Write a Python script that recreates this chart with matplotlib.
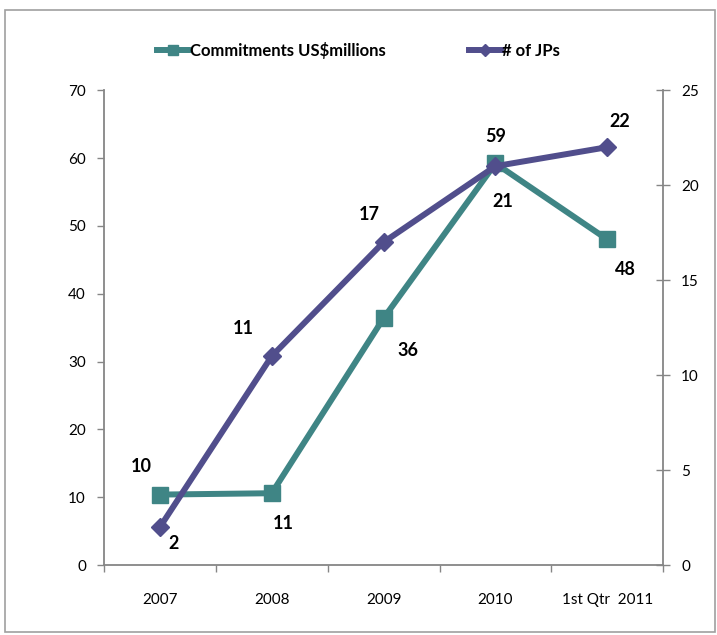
import matplotlib
matplotlib.use("Agg")
import matplotlib.pyplot as plt
from matplotlib.patches import Rectangle
from matplotlib.ticker import FixedLocator, NullFormatter

##############################
# DATA
##############################

categories  = ["2007", "2008", "2009", "2010", "1st Qtr  2011"]
commitments = [10.4, 10.6, 36.4, 59.2, 48.0]
jps         = [2, 11, 17, 21, 22]

##############################
# STYLE
##############################

teal     = "#3f8585"
purple   = "#514e8c"
axisGrey = "#868686"
fontFam  = ["Lato", "DejaVu Sans"]

plt.rcParams['font.family'] = fontFam

fig = plt.figure(figsize=(7.17, 6.35), dpi=100)
ax = fig.add_axes([0.145, 0.110, 0.780, 0.748])
ax2 = ax.twinx()

x = list(range(len(categories)))

l1, = ax.plot(x, commitments, color=teal, lw=4.3, marker='s', markersize=11.5,
              label="Commitments US$millions", zorder=3)
l2, = ax2.plot(x, jps, color=purple, lw=4.3, marker='D', markersize=9.5,
               label="# of JPs", zorder=4)

ax.set_xlim(-0.5, 4.5)
ax.set_ylim(0, 70)
ax2.set_ylim(0, 25)
ax.set_yticks(range(0, 71, 10))
ax2.set_yticks(range(0, 26, 5))

# category labels centred, tick marks between categories
ax.set_xticks(x)
ax.set_xticklabels(categories)
ax.xaxis.set_minor_locator(FixedLocator([i - 0.5 for i in range(len(categories) + 1)]))
ax.xaxis.set_minor_formatter(NullFormatter())
ax.tick_params(axis='x', which='major', length=0, pad=20, labelsize=11)
ax.tick_params(axis='x', which='minor', length=5, color=axisGrey, width=1)
ax.tick_params(axis='y', length=5, color=axisGrey, width=1, pad=8, labelsize=11)
ax2.tick_params(axis='y', direction='inout', length=10, color=axisGrey, width=1,
                pad=8, labelsize=11)

for a in (ax, ax2):
    a.spines['top'].set_visible(False)
    for s in ('left', 'right', 'bottom'):
        a.spines[s].set_color(axisGrey)
        a.spines[s].set_linewidth(1.3)
ax2.spines['left'].set_visible(False)
ax2.spines['bottom'].set_visible(False)
ax.spines['right'].set_visible(False)

# data labels (offsets in pixels)
comOffsets = [(-19, 28), (12, -30), (24, -32), (0, 27), (18, -30)]
jpOffsets  = [(14, -16), (-28, 28), (-14, 28), (7, -35), (12, 26)]
lblFont = dict(fontsize=13, fontweight='bold', ha='center', va='center', color='black')

for i, v in enumerate(commitments):
    ax.annotate(f"{v:.0f}", (x[i], v), xytext=comOffsets[i],
                textcoords='offset pixels', **lblFont)
for i, v in enumerate(jps):
    ax2.annotate(f"{v}", (x[i], v), xytext=jpOffsets[i],
                 textcoords='offset pixels', **lblFont)

leg = fig.legend(handles=[l1, l2], loc='center', bbox_to_anchor=(0.50, 0.92), ncol=2,
                 frameon=False, handlelength=1.9, handletextpad=0.1, columnspacing=5.0,
                 markerscale=0.6, prop={'family': fontFam, 'weight': 'bold', 'size': 12})

# outer chart border
fig.patches.append(Rectangle((0.007, 0.004), 0.990, 0.980, transform=fig.transFigure,
                             fill=False, edgecolor='#a0a0a0', lw=1.2))

plt.savefig("out.png", dpi=100)
